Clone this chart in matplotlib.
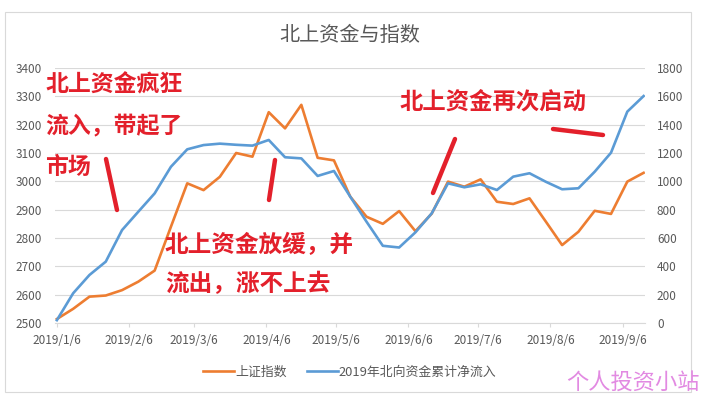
#!/usr/bin/python3
# 北上资金与指数

import datetime as dt

import matplotlib
matplotlib.use('Agg')
import matplotlib.dates as mdates
import matplotlib.pyplot as plt
from matplotlib.lines import Line2D

plt.rcParams['font.family'] = ['Noto Sans CJK SC', 'DejaVu Sans']

start = dt.date(2019, 1, 6)
weeks = [start + dt.timedelta(days=7 * i) for i in range(37)]

sh_index = [2514, 2550, 2593, 2597, 2616, 2646, 2685, 2840, 2993, 2969,
            3016, 3100, 3087, 3244, 3187, 3270, 3083, 3074, 2946, 2875,
            2850, 2895, 2824, 2886, 2999, 2981, 3007, 2928, 2920, 2940,
            2858, 2775, 2822, 2896, 2885, 2999, 3030]

north_flow = [20, 210, 339, 433, 656, 786, 915, 1103, 1226, 1256,
              1266, 1258, 1252, 1292, 1170, 1162, 1038, 1073, 892, 715,
              545, 533, 640, 774, 986, 958, 979, 939, 1033, 1057,
              997, 944, 951, 1068, 1202, 1492, 1602]

tick_dates = [dt.date(2019, m, 6) for m in range(1, 10)]
tick_labels = ['2019/%d/6' % m for m in range(1, 10)]

W, H = 701, 399
GRAY = '#595959'
RED = '#e3202b'


def px(x, y):
    return x / W, 1 - y / H


fig = plt.figure(figsize=(W / 100, H / 100), dpi=100)
fig.patch.set_facecolor('white')

# chart border
fig.add_artist(plt.Rectangle(px(5, 392), 686 / W, 380 / H, transform=fig.transFigure,
                             fill=False, edgecolor='#d9d9d9', linewidth=0.8))

ax = fig.add_axes([55 / W, 1 - 323 / H, 590 / W, 255 / H])
ax2 = ax.twinx()

ax.plot(weeks, sh_index, color='#ed7d31', linewidth=1.9, label='上证指数', zorder=3)
ax2.plot(weeks, north_flow, color='#5b9bd5', linewidth=1.9, label='2019年北向资金累计净流入', zorder=3)

ax.set_xlim(mdates.date2num(start) - 0.8, mdates.date2num(weeks[-1]) + 0.6)
ax.set_ylim(2500, 3400)
ax2.set_ylim(0, 1800)
ax.set_yticks(range(2500, 3401, 100))
ax2.set_yticks(range(0, 1801, 200))
ax.set_xticks(mdates.date2num(tick_dates))
ax.set_xticklabels(tick_labels)

for a in (ax, ax2):
    for s in a.spines.values():
        s.set_visible(False)
    a.tick_params(axis='y', length=0, labelsize=8.5, labelcolor=GRAY)
ax.spines['bottom'].set_visible(True)
ax.spines['bottom'].set_color('#d9d9d9')
ax.tick_params(axis='x', length=3, color='#d9d9d9', labelsize=8.5, labelcolor=GRAY, pad=5)
ax.tick_params(axis='y', pad=9.4)
ax2.tick_params(axis='y', pad=8.6)
ax.grid(axis='y', color='#d9d9d9', linewidth=0.8)
ax.set_axisbelow(True)

fig.text(*px(350, 35), '北上资金与指数', ha='center', va='center', fontsize=14.5, color=GRAY)

h1, l1 = ax.get_legend_handles_labels()
h2, l2 = ax2.get_legend_handles_labels()
fig.legend(h1 + h2, l1 + l2, loc='center', bbox_to_anchor=px(350, 372), ncol=2, frameon=False,
           fontsize=9.3, labelcolor=GRAY, handlelength=2.4, handletextpad=0.1, columnspacing=1.5)

# red annotations
notes = [
    (45, 85, '北上资金疯狂', 16.5),
    (45, 127, '流入，带起了', 16.5),
    (45, 168, '市场', 16.5),
    (165, 245, '北上资金放缓，并', 17),
    (165, 284, '流出，涨不上去', 17),
    (400, 101, '北上资金再次启动', 16.8),
]
for x, y, t, fs in notes:
    fig.text(*px(x, y), t, ha='left', va='center', fontsize=fs, color=RED, fontweight='bold')

strokes = [((106, 159), (117, 210)), ((275, 160), (269, 200)),
           ((455, 139), (433, 193)), ((553, 129), (603, 135))]
for p, q in strokes:
    (x0, y0), (x1, y1) = px(*p), px(*q)
    fig.add_artist(Line2D([x0, x1], [y0, y1], transform=fig.transFigure,
                          color=RED, linewidth=3.2, solid_capstyle='round'))

fig.text(*px(633, 382), '个人投资小站', ha='center', va='center', fontsize=16, color='#e28ae2')

fig.savefig('out.png', dpi=100)
